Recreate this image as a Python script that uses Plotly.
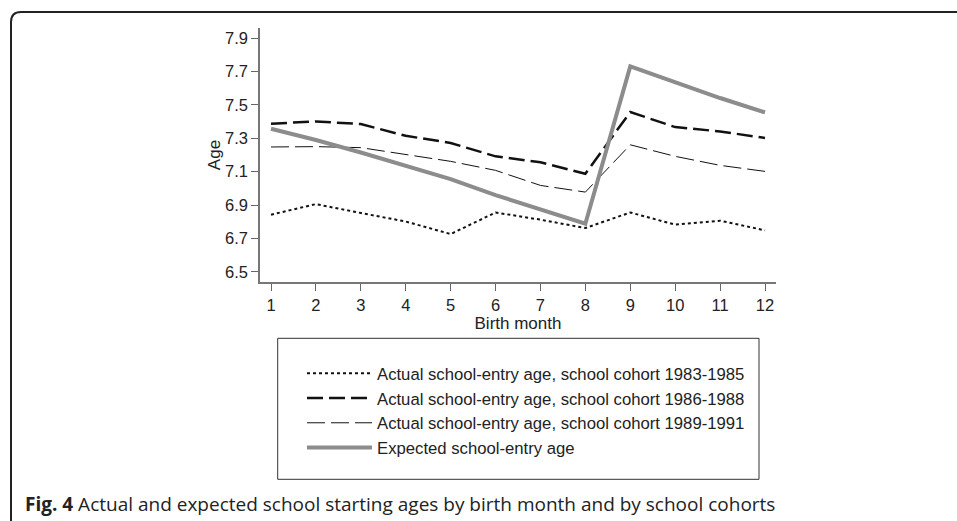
import plotly.graph_objects as go

months = list(range(1, 13))
month_labels = [str(m) for m in months]

cohort_1983_1985 = [6.843, 6.906, 6.853, 6.802, 6.727, 6.856, 6.813, 6.763, 6.856, 6.783, 6.807, 6.749]
cohort_1986_1988 = [7.387, 7.401, 7.385, 7.315, 7.272, 7.192, 7.156, 7.088, 7.457, 7.367, 7.341, 7.302]
cohort_1989_1991 = [7.248, 7.250, 7.244, 7.202, 7.162, 7.108, 7.018, 6.978, 7.261, 7.192, 7.138, 7.102]
expected_age = [7.357, 7.290, 7.215, 7.138, 7.056, 6.960, 6.872, 6.789, 7.730, 7.634, 7.541, 7.455]

series_names = [
    "Actual school-entry age, school cohort 1983-1985",
    "Actual school-entry age, school cohort 1986-1988",
    "Actual school-entry age, school cohort 1989-1991",
    "Expected school-entry age",
]
y_ticks = [6.5, 6.7, 6.9, 7.1, 7.3, 7.5, 7.7, 7.9]
caption = "<b>Fig. 4</b> Actual and expected school starting ages by birth month and by school cohorts"

W, H = 957, 521
L, R, T, B = 260, 181, 28, 239
PW = W - L - R
PH = H - T - B


def px(x):
    return (x - L) / PW


def py(y):
    return (H - B - y) / PH


ARIAL = "Liberation Sans, Arial, Helvetica, sans-serif"

fig = go.Figure()
fig.add_trace(go.Scatter(x=months, y=cohort_1983_1985, name=series_names[0], mode="lines",
                         line=dict(color="#111111", width=2, dash="3px,3px")))
fig.add_trace(go.Scatter(x=months, y=cohort_1986_1988, name=series_names[1], mode="lines",
                         line=dict(color="#111111", width=2.5, dash="16px,6px")))
fig.add_trace(go.Scatter(x=months, y=cohort_1989_1991, name=series_names[2], mode="lines",
                         line=dict(color="#111111", width=1, dash="18px,6px")))
fig.add_trace(go.Scatter(x=months, y=expected_age, name=series_names[3], mode="lines",
                         line=dict(color="#8c8c8c", width=4)))

# legend box
fig.add_shape(type="rect", xref="paper", yref="paper",
              x0=px(277.7), x1=px(759), y0=py(479.3), y1=py(338.3),
              line=dict(color="#333333", width=1), fillcolor="rgba(0,0,0,0)")

# card border (rounded top-left corner)
path = (f"M {px(11)},{py(530)} L {px(11)},{py(22)} "
        f"Q {px(11)},{py(12)} {px(21)},{py(12)} L {px(965)},{py(12)}")
fig.add_shape(type="path", xref="paper", yref="paper", path=path,
              line=dict(color="#222222", width=2))

fig.add_annotation(text=caption, xref="paper", yref="paper",
                   x=px(23), y=py(504), xanchor="left", yanchor="middle",
                   showarrow=False, font=dict(family="Open Sans, sans-serif", size=19, color="#222222"))

fig.update_layout(
    width=W, height=H,
    margin=dict(l=L, r=R, t=T, b=B, autoexpand=False),
    plot_bgcolor="white", paper_bgcolor="white",
    font=dict(family=ARIAL, size=16, color="#222222"),
    showlegend=True,
    legend=dict(x=px(302), y=py(356), xanchor="left", yanchor="top",
                bgcolor="rgba(0,0,0,0)", borderwidth=0, itemwidth=65,
                font=dict(family=ARIAL, size=16.7, color="#222222"),
                tracegroupgap=0, itemclick=False),
)
fig.update_xaxes(range=[0.755, 12.245], tickvals=months, ticktext=month_labels,
                 ticks="outside", ticklen=7, tickcolor="#666666", tickwidth=1,
                 showline=True, linecolor="#777777", linewidth=1.5,
                 showgrid=False, zeroline=False,
                 tickfont=dict(family=ARIAL, size=16.5, color="#222222"),
                 title=dict(text="Birth month", font=dict(family=ARIAL, size=17, color="#222222"), standoff=0))
fig.update_yaxes(range=[6.44, 7.96], tickvals=y_ticks, tickformat=".1f",
                 ticks="outside", ticklen=7, tickcolor="#666666", tickwidth=1,
                 showline=True, linecolor="#777777", linewidth=1.5,
                 showgrid=False, zeroline=False,
                 tickfont=dict(family=ARIAL, size=16.5, color="#222222"),
                 title=dict(text="Age", font=dict(family=ARIAL, size=17, color="#222222"), standoff=0))

fig.write_html("out.html", config={"displayModeBar": False},
               post_script="document.body.style.margin='0';")
